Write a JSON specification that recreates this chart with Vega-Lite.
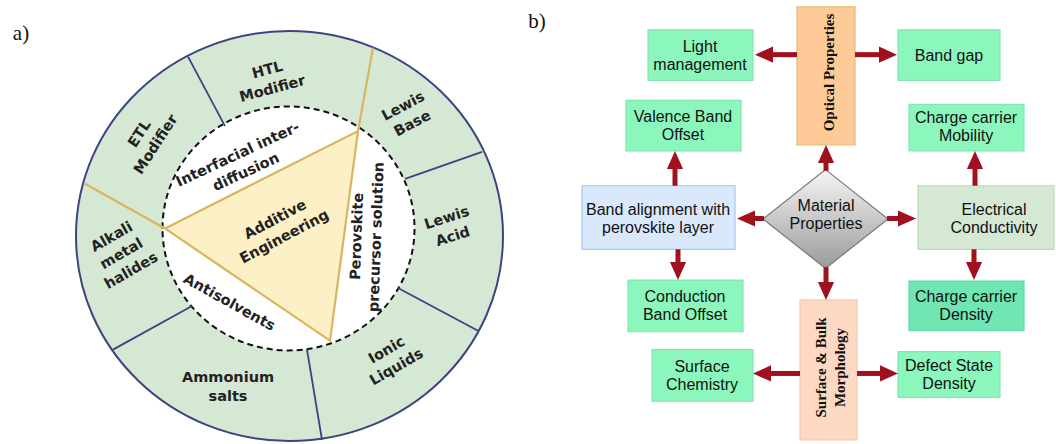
{
  "$schema": "https://vega.github.io/schema/vega-lite/v6.json",
  "width": 1056,
  "height": 444,
  "autosize": {"type": "fit", "contains": "padding"},
  "padding": 0,
  "background": "white",
  "config": {"view": {"stroke": null}},
  "datasets": {
    "ring": [{"x": 289.5, "y": 237.6}],
    "core": [{"x": 288.5, "y": 230}],
    "dividers": [
      {"x": 188, "y": 57, "x2": 225, "y2": 127},
      {"x": 482, "y": 153, "x2": 405, "y2": 180},
      {"x": 478, "y": 333, "x2": 398, "y2": 290},
      {"x": 307, "y": 352, "x2": 322, "y2": 443},
      {"x": 192, "y": 308, "x2": 113, "y2": 352}
    ],
    "goldlines": [
      {"x": 85, "y": 185, "x2": 165, "y2": 230},
      {"x": 373, "y": 48, "x2": 358, "y2": 132}
    ],
    "triangle": [
      {"i": 1, "x": 165, "y": 230},
      {"i": 2, "x": 358, "y": 132},
      {"i": 3, "x": 330, "y": 343}
    ],
    "wheelLabels": [
      {"text": "HTL\nModifier", "x": 267.5, "y": 71, "angle": -15},
      {"text": "ETL\nModifier", "x": 140, "y": 135, "angle": -57},
      {"text": "Lewis\nBase", "x": 403.5, "y": 107.5, "angle": -28},
      {"text": "Lewis\nAcid", "x": 447, "y": 220, "angle": -18},
      {"text": "Ionic\nLiquids", "x": 387, "y": 353, "angle": -30},
      {"text": "Ammonium\nsalts", "x": 228, "y": 380.5, "angle": 0},
      {"text": "Alkali\nmetal\nhalides", "x": 112, "y": 239, "angle": -30},
      {"text": "Interfacial inter-\ndiffusion", "x": 238, "y": 156, "angle": -25},
      {"text": "Additive\nEngineering", "x": 275.5, "y": 221.5, "angle": -28},
      {"text": "Antisolvents", "x": 229, "y": 305, "angle": 29},
      {"text": "Perovskite\nprecursor solution", "x": 357.5, "y": 238, "angle": -88}
    ],
    "boxes": [
      {"name": "Light management", "kind": "green", "x": 648, "x2": 753, "y": 30, "y2": 81},
      {"name": "Band gap", "kind": "green", "x": 898, "x2": 1000, "y": 30, "y2": 81},
      {"name": "Valence Band Offset", "kind": "green", "x": 626, "x2": 741, "y": 101, "y2": 152},
      {"name": "Charge carrier Mobility", "kind": "green", "x": 909, "x2": 1024, "y": 105, "y2": 152},
      {"name": "Conduction Band Offset", "kind": "green", "x": 628, "x2": 743, "y": 282, "y2": 334},
      {"name": "Surface Chemistry", "kind": "green", "x": 652, "x2": 753, "y": 352, "y2": 404},
      {"name": "Defect State Density", "kind": "green", "x": 898, "x2": 1000, "y": 354, "y2": 400},
      {"name": "Charge carrier Density", "kind": "darkgreen", "x": 909, "x2": 1024, "y": 283, "y2": 333},
      {"name": "Optical Properties", "kind": "orange", "x": 797, "x2": 855, "y": 7, "y2": 146},
      {"name": "Surface & Bulk Morphology", "kind": "peach", "x": 800, "x2": 857, "y": 302, "y2": 443},
      {"name": "Band alignment", "kind": "blue", "x": 582, "x2": 735, "y": 187, "y2": 251},
      {"name": "Electrical Conductivity", "kind": "sage", "x": 918, "x2": 1054, "y": 187, "y2": 251}
    ],
    "diamond": [{"x": 825.5, "y": 220.5}],
    "shafts": [
      {"x": 797, "y": 55, "x2": 770, "y2": 55},
      {"x": 855, "y": 55, "x2": 882, "y2": 55},
      {"x": 826, "y": 172, "x2": 826, "y2": 161},
      {"x": 675, "y": 187, "x2": 675, "y2": 167},
      {"x": 975, "y": 187, "x2": 975, "y2": 167},
      {"x": 764, "y": 220, "x2": 752, "y2": 220},
      {"x": 887, "y": 220, "x2": 901, "y2": 220},
      {"x": 678, "y": 251, "x2": 678, "y2": 267},
      {"x": 826, "y": 269, "x2": 826, "y2": 287},
      {"x": 974, "y": 251, "x2": 974, "y2": 267},
      {"x": 800, "y": 376, "x2": 768, "y2": 376},
      {"x": 857, "y": 376, "x2": 883, "y2": 376}
    ],
    "heads": [
      {"dir": "left", "x": 755, "y": 55},
      {"dir": "right", "x": 897, "y": 55},
      {"dir": "up", "x": 826, "y": 146},
      {"dir": "up", "x": 675, "y": 152},
      {"dir": "up", "x": 975, "y": 152},
      {"dir": "left", "x": 737, "y": 220},
      {"dir": "right", "x": 916, "y": 220},
      {"dir": "down", "x": 678, "y": 282},
      {"dir": "down", "x": 826, "y": 302},
      {"dir": "down", "x": 974, "y": 282},
      {"dir": "left", "x": 753, "y": 376},
      {"dir": "right", "x": 898, "y": 376}
    ],
    "boxLabels": [
      {"text": "Light\nmanagement", "x": 700, "y": 47},
      {"text": "Band gap", "x": 949, "y": 56},
      {"text": "Valence Band\nOffset", "x": 683, "y": 118},
      {"text": "Charge carrier\nMobility", "x": 966, "y": 119},
      {"text": "Band alignment with\nperovskite layer", "x": 658, "y": 211},
      {"text": "Electrical\nConductivity", "x": 994, "y": 211},
      {"text": "Conduction\nBand Offset", "x": 685, "y": 299},
      {"text": "Charge carrier\nDensity", "x": 966, "y": 299},
      {"text": "Surface\nChemistry", "x": 702, "y": 369},
      {"text": "Defect State\nDensity", "x": 949, "y": 368},
      {"text": "Material\nProperties", "x": 826, "y": 207}
    ],
    "serifLabels": [
      {"text": "Optical Properties", "x": 828.5, "y": 73, "angle": -90},
      {"text": "Surface & Bulk\nMorphology", "x": 820.5, "y": 370, "angle": -90}
    ],
    "panelLabels": [
      {"text": "a)", "x": 21, "y": 34},
      {"text": "b)", "x": 537, "y": 22}
    ]
  },
  "layer": [
    {
      "data": {"name": "ring"},
      "mark": {"type": "point", "shape": "M -1 0 A 1 0.96 0 1 1 1 0 A 1 0.96 0 1 1 -1 0 Z", "size": 182329, "filled": true, "fill": "#d5e8d4", "stroke": "#3e4480", "strokeWidth": 2, "opacity": 1},
      "encoding": {
        "x": {"field": "x", "type": "quantitative", "scale": {"domain": [0, 1056], "nice": false, "zero": false}, "axis": null},
        "y": {"field": "y", "type": "quantitative", "scale": {"domain": [0, 444], "nice": false, "zero": false, "reverse": true}, "axis": null}
      }
    },
    {
      "data": {"name": "core"},
      "mark": {"type": "point", "shape": "M -1 0 A 1 0.968 0 1 1 1 0 A 1 0.968 0 1 1 -1 0 Z", "size": 63504, "filled": true, "fill": "#ffffff", "stroke": "#111111", "strokeWidth": 2, "strokeDash": [6, 4], "opacity": 1},
      "encoding": {
        "x": {"field": "x", "type": "quantitative", "scale": {"domain": [0, 1056], "nice": false, "zero": false}, "axis": null},
        "y": {"field": "y", "type": "quantitative", "scale": {"domain": [0, 444], "nice": false, "zero": false, "reverse": true}, "axis": null}
      }
    },
    {
      "data": {"name": "dividers"},
      "mark": {"type": "rule", "stroke": "#3c4382", "strokeWidth": 1.8},
      "encoding": {
        "x": {"field": "x", "type": "quantitative", "scale": {"domain": [0, 1056], "nice": false, "zero": false}, "axis": null},
        "y": {"field": "y", "type": "quantitative", "scale": {"domain": [0, 444], "nice": false, "zero": false, "reverse": true}, "axis": null},
        "x2": {"field": "x2"},
        "y2": {"field": "y2"}
      }
    },
    {
      "data": {"name": "goldlines"},
      "mark": {"type": "rule", "stroke": "#d8b55e", "strokeWidth": 2.2},
      "encoding": {
        "x": {"field": "x", "type": "quantitative", "scale": {"domain": [0, 1056], "nice": false, "zero": false}, "axis": null},
        "y": {"field": "y", "type": "quantitative", "scale": {"domain": [0, 444], "nice": false, "zero": false, "reverse": true}, "axis": null},
        "x2": {"field": "x2"},
        "y2": {"field": "y2"}
      }
    },
    {
      "data": {"name": "triangle"},
      "mark": {"type": "line", "interpolate": "linear-closed", "fill": "#fdf0c6", "stroke": "#d8b55e", "strokeWidth": 2.2},
      "encoding": {
        "x": {"field": "x", "type": "quantitative", "scale": {"domain": [0, 1056], "nice": false, "zero": false}, "axis": null},
        "y": {"field": "y", "type": "quantitative", "scale": {"domain": [0, 444], "nice": false, "zero": false, "reverse": true}, "axis": null},
        "order": {"field": "i", "type": "quantitative"}
      }
    },
    {
      "data": {"name": "wheelLabels"},
      "mark": {"type": "text", "font": "DejaVu Sans", "fontWeight": "bold", "fontSize": 14.5, "lineBreak": "\n", "lineHeight": 19.5, "align": "center", "baseline": "middle", "color": "#222222"},
      "encoding": {
        "x": {"field": "x", "type": "quantitative", "scale": {"domain": [0, 1056], "nice": false, "zero": false}, "axis": null},
        "y": {"field": "y", "type": "quantitative", "scale": {"domain": [0, 444], "nice": false, "zero": false, "reverse": true}, "axis": null},
        "text": {"field": "text"},
        "angle": {"field": "angle", "type": "quantitative", "scale": null}
      }
    },
    {
      "data": {"name": "boxes"},
      "mark": {"type": "rect", "strokeWidth": 1.2, "opacity": 1},
      "encoding": {
        "x": {"field": "x", "type": "quantitative", "scale": {"domain": [0, 1056], "nice": false, "zero": false}, "axis": null},
        "y": {"field": "y", "type": "quantitative", "scale": {"domain": [0, 444], "nice": false, "zero": false, "reverse": true}, "axis": null},
        "x2": {"field": "x2"},
        "y2": {"field": "y2"},
        "fill": {"field": "kind", "type": "nominal", "scale": {"domain": ["green", "darkgreen", "orange", "peach", "blue", "sage"], "range": ["#8cf7bd", "#6fe6b4", "#fdca98", "#fdd9c3", "#dae8fc", "#d5e8d4"]}, "legend": null},
        "stroke": {"field": "kind", "type": "nominal", "scale": {"domain": ["green", "darkgreen", "orange", "peach", "blue", "sage"], "range": ["#7ee8b0", "#5ed9a4", "#e8bb72", "#f6c9ad", "#a8c6ee", "#b9dcae"]}, "legend": null}
      }
    },
    {
      "data": {"name": "diamond"},
      "mark": {"type": "point", "shape": "M 0 -0.79 L 1 0 L 0 0.79 L -1 0 Z", "size": 15625, "filled": true, "opacity": 1, "fill": {"gradient": "linear", "x1": 0, "y1": 0, "x2": 0, "y2": 1, "stops": [{"offset": 0, "color": "#f6f6f6"}, {"offset": 1, "color": "#9a9a9a"}]}, "stroke": "#7a7a7a", "strokeWidth": 1.2},
      "encoding": {
        "x": {"field": "x", "type": "quantitative", "scale": {"domain": [0, 1056], "nice": false, "zero": false}, "axis": null},
        "y": {"field": "y", "type": "quantitative", "scale": {"domain": [0, 444], "nice": false, "zero": false, "reverse": true}, "axis": null}
      }
    },
    {
      "data": {"name": "shafts"},
      "mark": {"type": "rule", "stroke": "#a0111f", "strokeWidth": 5},
      "encoding": {
        "x": {"field": "x", "type": "quantitative", "scale": {"domain": [0, 1056], "nice": false, "zero": false}, "axis": null},
        "y": {"field": "y", "type": "quantitative", "scale": {"domain": [0, 444], "nice": false, "zero": false, "reverse": true}, "axis": null},
        "x2": {"field": "x2"},
        "y2": {"field": "y2"}
      }
    },
    {
      "data": {"name": "heads"},
      "mark": {"type": "point", "size": 324, "filled": true, "fill": "#a0111f", "strokeWidth": 0, "opacity": 1},
      "encoding": {
        "x": {"field": "x", "type": "quantitative", "scale": {"domain": [0, 1056], "nice": false, "zero": false}, "axis": null},
        "y": {"field": "y", "type": "quantitative", "scale": {"domain": [0, 444], "nice": false, "zero": false, "reverse": true}, "axis": null},
        "shape": {"field": "dir", "type": "nominal", "scale": {"domain": ["left", "right", "up", "down"], "range": ["M 0 0 L 2 -0.9 L 2 0.9 Z", "M 0 0 L -2 -0.9 L -2 0.9 Z", "M 0 0 L -0.9 2 L 0.9 2 Z", "M 0 0 L -0.9 -2 L 0.9 -2 Z"]}, "legend": null}
      }
    },
    {
      "data": {"name": "boxLabels"},
      "mark": {"type": "text", "font": "Liberation Sans", "fontSize": 16, "lineBreak": "\n", "lineHeight": 18, "align": "center", "baseline": "middle", "color": "#111111"},
      "encoding": {
        "x": {"field": "x", "type": "quantitative", "scale": {"domain": [0, 1056], "nice": false, "zero": false}, "axis": null},
        "y": {"field": "y", "type": "quantitative", "scale": {"domain": [0, 444], "nice": false, "zero": false, "reverse": true}, "axis": null},
        "text": {"field": "text"}
      }
    },
    {
      "data": {"name": "serifLabels"},
      "mark": {"type": "text", "font": "Liberation Serif", "fontWeight": "bold", "fontSize": 15, "lineBreak": "\n", "lineHeight": 19, "align": "center", "baseline": "middle", "color": "#111111"},
      "encoding": {
        "x": {"field": "x", "type": "quantitative", "scale": {"domain": [0, 1056], "nice": false, "zero": false}, "axis": null},
        "y": {"field": "y", "type": "quantitative", "scale": {"domain": [0, 444], "nice": false, "zero": false, "reverse": true}, "axis": null},
        "text": {"field": "text"},
        "angle": {"field": "angle", "type": "quantitative", "scale": null}
      }
    },
    {
      "data": {"name": "panelLabels"},
      "mark": {"type": "text", "font": "Liberation Serif", "fontSize": 21, "align": "center", "baseline": "middle", "color": "#111111"},
      "encoding": {
        "x": {"field": "x", "type": "quantitative", "scale": {"domain": [0, 1056], "nice": false, "zero": false}, "axis": null},
        "y": {"field": "y", "type": "quantitative", "scale": {"domain": [0, 444], "nice": false, "zero": false, "reverse": true}, "axis": null},
        "text": {"field": "text"}
      }
    }
  ]
}
